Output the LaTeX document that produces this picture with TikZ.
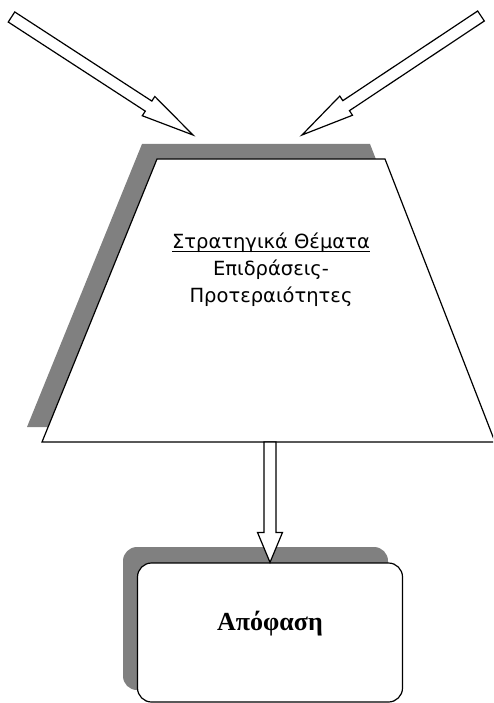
\documentclass[tikz,border=0pt]{standalone}
\usepackage{fontspec}
\setmainfont{Liberation Serif}
\newfontfamily\labelsans{DejaVu Sans}
\usetikzlibrary{calc}

\tikzset{
  shadowfill/.style={fill=black!50, draw=none},
  outline/.style={draw=black, line width=1.2pt, line join=miter},
  blockarrow/.style={outline, fill=white},
}

% underline set close to the baseline
\newcommand{\shallowul}[1]{\setbox0\hbox{#1}\rlap{\rule[-3.5pt]{\wd0}{1.1pt}}\box0}

% hollow block arrow: #1 tail, #2 tip, #3 half shaft width, #4 half head width, #5 head length
\newcommand{\blockarr}[5]{%
  \draw[blockarrow]
    ($(#1)!#3!90:(#2)$)
    -- ($(#2)!#5!(#1)!#3!90:(#2)$)
    -- ($(#2)!#5!(#1)!#4!90:(#2)$)
    -- (#2)
    -- ($(#2)!#5!(#1)!#4!-90:(#2)$)
    -- ($(#2)!#5!(#1)!#3!-90:(#2)$)
    -- ($(#1)!#3!-90:(#2)$)
    -- cycle;
}

\begin{document}
\begin{tikzpicture}[x=1pt, y=-1pt]
  \useasboundingbox (0,0) rectangle (493,703);
  \clip (0,0) rectangle (493,703);

  % trapezoid with its shadow
  \fill[shadowfill] (142,144) -- (370,144) -- (480,427) -- (27,427) -- cycle;
  \draw[outline, fill=white] (157,159) -- (385,159) -- (495,442) -- (42,442) -- cycle;
  \coordinate (trapbase) at (270,442);

  \node[font=\labelsans\fontsize{19.5}{27}\selectfont, align=center] (issues) at (271,270)
    {\shallowul{Στρατηγικά Θέματα}\\Επιδράσεις-\\Προτεραιότητες};

  % decision box with its shadow
  \fill[shadowfill, rounded corners=14pt] (123,547) rectangle (388,690);
  \node[outline, fill=white, rounded corners=14pt, minimum width=265pt, minimum height=139pt,
        inner sep=0pt] (decision) at (270,632.5) {};
  \node[font=\bfseries\fontsize{26}{30}\selectfont] (decisiontext) at (270,624) {Απόφαση};

  % incoming arrows
  \coordinate (inA) at (11.5,17);
  \coordinate (inAtip) at (193,135);
  \coordinate (inB) at (481,16);
  \coordinate (inBtip) at (302,135);
  \blockarr{inA}{inAtip}{6pt}{11.5pt}{53pt}
  \blockarr{inB}{inBtip}{6pt}{11.5pt}{53pt}

  % trapezoid to decision
  \blockarr{trapbase}{decision.north}{6pt}{12.5pt}{30pt}
\end{tikzpicture}
\end{document}
